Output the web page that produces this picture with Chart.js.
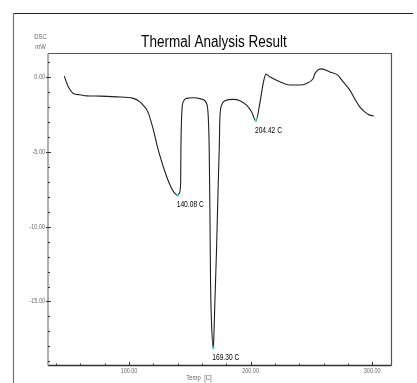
<!DOCTYPE html>
<html>
<head>
<meta charset="utf-8">
<script src="https://cdn.jsdelivr.net/npm/chart.js@4/dist/chart.umd.min.js"></script>
<style>
html,body{margin:0;padding:0;background:#fff;}
canvas{display:block;}
</style>
</head>
<body>
<canvas id="c" width="417" height="383"></canvas>
<script>
// ---- data ----
const temps = [46.8, 50.1, 54.2, 59.7, 65.2, 76.2, 89.9, 103.6, 109, 112.5, 115.6, 119.7, 124.1, 131, 135.1, 137.8, 140.08, 141.3, 142.5, 142.7, 143.3, 144.6, 147.4, 152.8, 159.7, 163.8, 165.2, 166, 166.6, 167.1, 167.9, 169.3, 169.8, 170.7, 172, 173.4, 174.2, 174.8, 176.2, 178.9, 185.7, 191.2, 196.7, 200.8, 204.42, 207.6, 210.4, 212.6, 215.8, 224.1, 232.3, 240.5, 246, 251.5, 253, 258.3, 261, 265.2, 271.7, 276, 281.6, 286, 289.8, 293.9, 298, 301.3];
const dsc = [0.07, -0.65, -1.09, -1.18, -1.25, -1.27, -1.32, -1.42, -1.65, -1.95, -2.34, -3.41, -4.88, -6.66, -7.44, -7.77, -7.89, -7.77, -7.1, -4.88, -2.65, -1.65, -1.42, -1.38, -1.47, -1.76, -2.65, -4.88, -9.34, -13.8, -16.46, -18.1, -17.36, -14.9, -11.56, -7.1, -4.88, -2.65, -1.87, -1.58, -1.49, -1.58, -1.87, -2.32, -2.92, -1.76, -0.42, 0.2, 0.02, -0.31, -0.53, -0.53, -0.42, -0.09, 0.25, 0.55, 0.5, 0.35, 0.13, -0.3, -0.87, -1.5, -1.99, -2.32, -2.54, -2.59];
const peakTemps = [140.08, 169.30, 204.42];
const peakDsc = [-7.89, -18.1, -2.92];
const peakLabels = ["140.08 C", "169.30 C", "204.42 C"];
const xMajorTicks = [100, 200, 300];
const xTickLabels = ["100.00", "200.00", "300.00"];
const xMinorTicks = [40, 60, 80, 120, 140, 160, 180, 220, 240, 260, 280];
const yMajorTicks = [0, -5, -10, -15];
const yTickLabels = ["0.00", "-5.00", "-10.00", "-15.00"];
const yMinorTicks = [1, -1, -2, -3, -4, -6, -7, -8, -9, -11, -12, -13, -14, -16, -17, -18, -19];
const titleText = "Thermal Analysis Result";
const xAxisTitle = "Temp  [C]";
const yAxisTitle = ["DSC", "mW"];

const curve = temps.map((t, i) => ({x: t, y: dsc[i]}));
const peaks = peakTemps.map((t, i) => ({x: t, y: peakDsc[i]}));

function narrowText(ctx, text, x, y, size, sx, align, color, weight) {
  ctx.save();
  ctx.font = (weight || "normal") + " " + size + "px 'Liberation Sans', Arial, sans-serif";
  ctx.fillStyle = color;
  ctx.textBaseline = "middle";
  const w = ctx.measureText(text).width * sx;
  let left = x;
  if (align === "center") left = x - w / 2;
  else if (align === "right") left = x - w;
  ctx.translate(left, y);
  ctx.scale(sx, 1);
  ctx.textAlign = "left";
  ctx.fillText(text, 0, 0);
  ctx.restore();
}

const decor = {
  id: "decor",
  afterDraw(chart) {
    const ctx = chart.ctx;
    const xs = chart.scales.x, ys = chart.scales.y;
    const a = chart.chartArea;
    ctx.save();
    // outer frame
    ctx.strokeStyle = "#222"; ctx.lineWidth = 1;
    ctx.beginPath(); ctx.moveTo(13, 13.5); ctx.lineTo(413, 13.5); ctx.stroke();
    ctx.strokeStyle = "#777"; ctx.lineWidth = 1.2;
    ctx.beginPath(); ctx.moveTo(13.5, 13); ctx.lineTo(13.5, 383); ctx.stroke();
    // plot frame top/right
    ctx.strokeStyle = "#555"; ctx.lineWidth = 1.2;
    ctx.beginPath(); ctx.moveTo(a.left, a.top); ctx.lineTo(a.right, a.top); ctx.lineTo(a.right, a.bottom); ctx.stroke();
    // x axis
    ctx.strokeStyle = "#333"; ctx.lineWidth = 1.3;
    ctx.beginPath(); ctx.moveTo(a.left, a.bottom); ctx.lineTo(a.right, a.bottom); ctx.stroke();
    // y axis
    ctx.strokeStyle = "#999"; ctx.lineWidth = 1.6;
    ctx.beginPath(); ctx.moveTo(a.left, a.top); ctx.lineTo(a.left, a.bottom); ctx.stroke();
    // ticks
    ctx.strokeStyle = "#333"; ctx.lineWidth = 1;
    xMajorTicks.forEach(v => { const p = Math.round(xs.getPixelForValue(v)) + 0.5; ctx.beginPath(); ctx.moveTo(p, a.bottom); ctx.lineTo(p, a.bottom - 3.5); ctx.stroke(); });
    xMinorTicks.forEach(v => { const p = Math.round(xs.getPixelForValue(v)) + 0.5; ctx.beginPath(); ctx.moveTo(p, a.bottom); ctx.lineTo(p, a.bottom - 2); ctx.stroke(); });
    yMajorTicks.forEach(v => { const p = Math.round(ys.getPixelForValue(v)) + 0.5; ctx.beginPath(); ctx.moveTo(a.left - 2, p); ctx.lineTo(a.left + 3, p); ctx.stroke(); });
    yMinorTicks.forEach(v => { const p = Math.round(ys.getPixelForValue(v)) + 0.5; ctx.beginPath(); ctx.moveTo(a.left, p); ctx.lineTo(a.left + 2, p); ctx.stroke(); });
    // tick labels
    xMajorTicks.forEach((v, i) => narrowText(ctx, xTickLabels[i], xs.getPixelForValue(v), a.bottom + 5.5, 7, 0.78, "center", "#666"));
    yMajorTicks.forEach((v, i) => narrowText(ctx, yTickLabels[i], a.left - 3, ys.getPixelForValue(v), 7, 0.78, "right", "#666"));
    // axis titles
    narrowText(ctx, yAxisTitle[0], 40.5, 37, 7, 0.85, "center", "#666");
    narrowText(ctx, yAxisTitle[1], 40.5, 47.5, 7, 0.85, "center", "#666");
    narrowText(ctx, xAxisTitle, 199, 378.5, 7, 0.85, "center", "#666");
    // title
    narrowText(ctx, titleText, 214, 43, 16, 0.845, "center", "#000");
    // peak labels
    peakTemps.forEach((t, i) => {
      const px = xs.getPixelForValue(t), py = ys.getPixelForValue(peakDsc[i]);
      narrowText(ctx, peakLabels[i], px - 1, py + 9.5, 9, 0.74, "left", "#000");
    });
    ctx.restore();
  }
};

new Chart(document.getElementById("c"), {
  type: "line",
  data: {
    datasets: [
      {data: curve, borderColor: "#1e1e1e", borderWidth: 1.1, pointRadius: 0, cubicInterpolationMode: "monotone", fill: false, order: 2},
      {data: peaks, showLine: false, pointRadius: 1.3, pointBorderWidth: 0, pointBackgroundColor: "#2ad0e0", order: 1}
    ]
  },
  options: {
    responsive: false,
    animation: false,
    devicePixelRatio: 1,
    layout: {padding: {left: 48, right: 25.5, top: 53.5, bottom: 17.5}},
    plugins: {legend: {display: false}, tooltip: {enabled: false}, title: {display: false}},
    scales: {
      x: {type: "linear", display: false, min: 33.4, max: 315.9},
      y: {type: "linear", display: false, min: -19.28, max: 1.58}
    }
  },
  plugins: [decor]
});
</script>
</body>
</html>
